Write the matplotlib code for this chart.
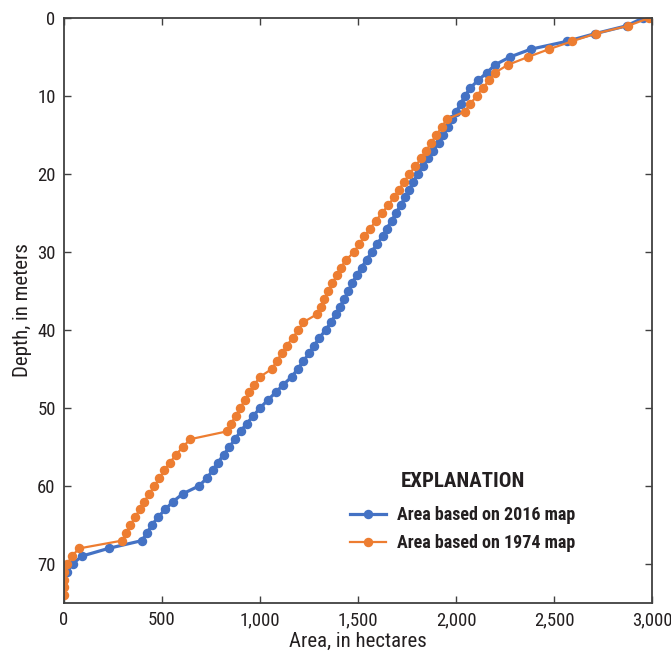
import matplotlib
matplotlib.use("Agg")
import matplotlib.pyplot as plt
from matplotlib.ticker import FuncFormatter

plt.rcParams['font.family'] = ['Roboto Condensed', 'DejaVu Sans']

# area (hectares) at each 1-m depth step
depth_2016 = list(range(0, 72))
area_2016 = [2954, 2870, 2710, 2564, 2381, 2275, 2199, 2158, 2112, 2071,
             2046, 2023, 2002, 1978, 1957, 1935, 1913, 1884, 1855, 1830,
             1804, 1782, 1762, 1740, 1717, 1694, 1672, 1646, 1626, 1595,
             1570, 1544, 1518, 1493, 1469, 1451, 1430, 1408, 1386, 1362,
             1335, 1303, 1276, 1250, 1221, 1192, 1162, 1119, 1080, 1039,
             1000, 966, 932, 901, 872, 844, 814, 785, 758, 729,
             688, 606, 556, 517, 479, 449, 423, 398, 227, 90,
             44, 14]

depth_1974 = list(range(0, 75))
area_1974 = [2985, 2878, 2712, 2590, 2474, 2367, 2265, 2199, 2168, 2136,
             2105, 2073, 2044, 1952, 1927, 1899, 1873, 1848, 1822, 1792,
             1762, 1735, 1709, 1682, 1655, 1621, 1592, 1561, 1532, 1505,
             1480, 1439, 1412, 1391, 1369, 1348, 1327, 1310, 1289, 1221,
             1195, 1167, 1136, 1110, 1085, 1060, 1000, 971, 946, 923,
             898, 876, 852, 831, 644, 606, 571, 540, 511, 487,
             461, 435, 409, 386, 363, 338, 317, 297, 78, 39,
             17, 0, 0, 0, 0]

blue = '#4472C4'
orange = '#ED7D31'
ink = '#231F20'

fig = plt.figure(figsize=(6.71, 6.53), dpi=100)
ax = fig.add_axes([0.0954, 0.0766, 0.8763, 0.8958])

ax.plot(area_2016, depth_2016, color=blue, lw=2.3, marker='o', ms=5.8,
        label='Area based on 2016 map')
ax.plot(area_1974, depth_1974, color=orange, lw=1.6, marker='o', ms=5.8,
        label='Area based on 1974 map')

ax.set_xlim(0, 3000)
ax.set_ylim(75, 0)
ax.set_xticks(range(0, 3001, 500))
ax.set_yticks(range(0, 71, 10))
ax.xaxis.set_major_formatter(FuncFormatter(lambda v, p: f'{int(v):,}'))
ax.tick_params(direction='in', top=True, right=True, length=5, width=1,
               color='#404040', labelsize=13.5, labelcolor=ink)
ax.tick_params(axis='x', pad=6)
ax.tick_params(axis='y', pad=6)
for s in ax.spines.values():
    s.set_color('#404040')
    s.set_linewidth(1.3)

ax.set_xlabel('Area, in hectares', fontsize=15, color=ink, labelpad=2)
ax.set_ylabel('Depth, in meters', fontsize=15, color=ink, labelpad=4)

leg = ax.legend(loc='center', bbox_to_anchor=(0.678, 0.155), frameon=False,
                title='EXPLANATION',
                prop={'weight': 'bold', 'size': 13},
                handlelength=2.0, labelspacing=0.55, handletextpad=0.6)
leg.get_title().set_fontweight('bold')
leg.get_title().set_fontsize(15)
leg.get_title().set_color(ink)
for t in leg.get_texts():
    t.set_color(ink)
leg._legend_box.sep = 11

fig.savefig('out.png', dpi=100)
